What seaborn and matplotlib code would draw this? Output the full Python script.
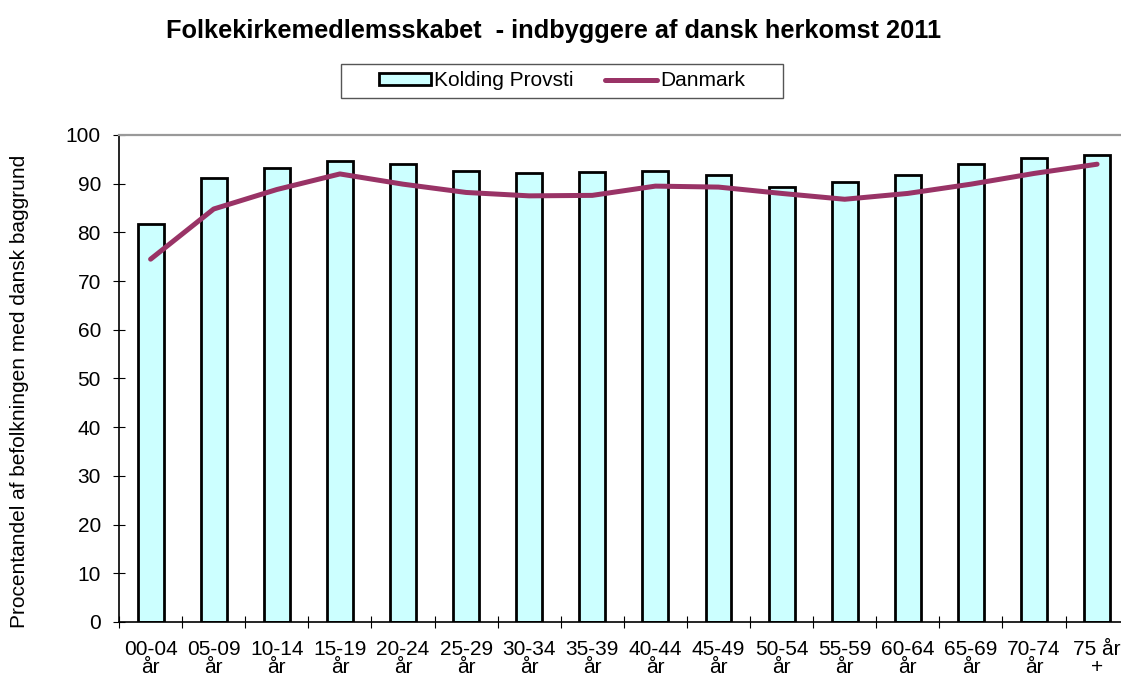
import matplotlib
matplotlib.use("Agg")
import matplotlib.pyplot as plt
import seaborn as sns
import pandas as pd
from matplotlib.patches import Patch, Rectangle
from matplotlib.lines import Line2D

categories = ["00-04\når", "05-09\når", "10-14\når", "15-19\når", "20-24\når", "25-29\når",
              "30-34\når", "35-39\når", "40-44\når", "45-49\når", "50-54\når", "55-59\når",
              "60-64\når", "65-69\når", "70-74\når", "75 år\n+"]
kolding = [81.8, 91.1, 93.3, 94.7, 94.0, 92.6, 92.2, 92.3, 92.7, 91.7, 89.3, 90.3, 91.8, 94.0, 95.2, 95.9]
danmark = [74.5, 84.8, 88.8, 92.0, 89.9, 88.2, 87.5, 87.6, 89.5, 89.3, 88.0, 86.8, 88.0, 89.9, 92.1, 94.0]
yticks = list(range(0, 101, 10))

sns.set_theme(style="white")
plt.rcParams['font.family'] = ['Liberation Sans', 'DejaVu Sans']
plt.rcParams['text.color'] = 'black'
plt.rcParams['xtick.color'] = 'black'
plt.rcParams['ytick.color'] = 'black'
plt.rcParams['axes.labelcolor'] = 'black'

df = pd.DataFrame({"cat": categories, "Kolding Provsti": kolding, "Danmark": danmark})

fig = plt.figure(figsize=(11.21, 6.8), dpi=100)
ax = fig.add_axes([0.1062, 0.0853, 0.9006, 0.7162])

bar_color = "#CCFFFF"
line_color = "#993366"

sns.barplot(data=df, x="cat", y="Kolding Provsti", ax=ax, color=bar_color,
            edgecolor="black", linewidth=2.0, width=0.41, saturation=1)
ax.plot(range(len(categories)), danmark, color=line_color, linewidth=3.6,
        solid_capstyle="round", solid_joinstyle="round")

ax.set_xlim(-0.5, len(categories) - 0.5)
ax.set_ylim(0, 100)
ax.set_yticks(yticks)
ax.set_xlabel("")
ax.set_ylabel("")
fig.text(0.017, 0.425, "Procentandel af befolkningen med dansk baggrund", rotation=90,
         ha="center", va="center", fontsize=15)
ax.tick_params(axis="both", labelsize=15, direction="inout", length=8, width=0.8,
               left=True, bottom=True)
ax.tick_params(axis="y", pad=9)
ax.tick_params(axis="x", pad=13)
ax.set_xticks([i - 0.5 for i in range(len(categories) + 1)], minor=True)
ax.tick_params(axis="x", which="major", length=0)
ax.tick_params(axis="x", which="minor", direction="inout", length=8, width=0.8, bottom=True)
ax.set_xticklabels(categories, linespacing=0.95)

for s in ["left", "bottom"]:
    ax.spines[s].set_color("black")
    ax.spines[s].set_linewidth(1.2)
ax.spines["top"].set_color("#999999")
ax.spines["top"].set_linewidth(1.6)
ax.spines["right"].set_visible(False)

fig.text(0.494, 0.955, "Folkekirkemedlemsskabet  - indbyggere af dansk herkomst 2011",
         ha="center", va="center", fontsize=18.3, fontweight="bold")

# legend frame
W, H = 1121.0, 680.0
fig.patches.append(Rectangle((341 / W, 1 - 98 / H), 442 / W, 34 / H, transform=fig.transFigure,
                             fill=True, facecolor="white", edgecolor="#555555", linewidth=1.0,
                             zorder=1))
handles = [Patch(facecolor=bar_color, edgecolor="black", linewidth=2.0),
           Line2D([0], [0], color=line_color, linewidth=3.6)]
leg = fig.legend(handles, ["Kolding Provsti", "Danmark"], ncol=2, loc="center",
                 bbox_to_anchor=(562 / W, 1 - 81 / H), fontsize=15, frameon=False,
                 handlelength=2.5, handleheight=0.5, handletextpad=0.15, columnspacing=1.5,
                 borderpad=0.2, borderaxespad=0)
leg.set_zorder(2)

fig.savefig("out.png", dpi=100)
